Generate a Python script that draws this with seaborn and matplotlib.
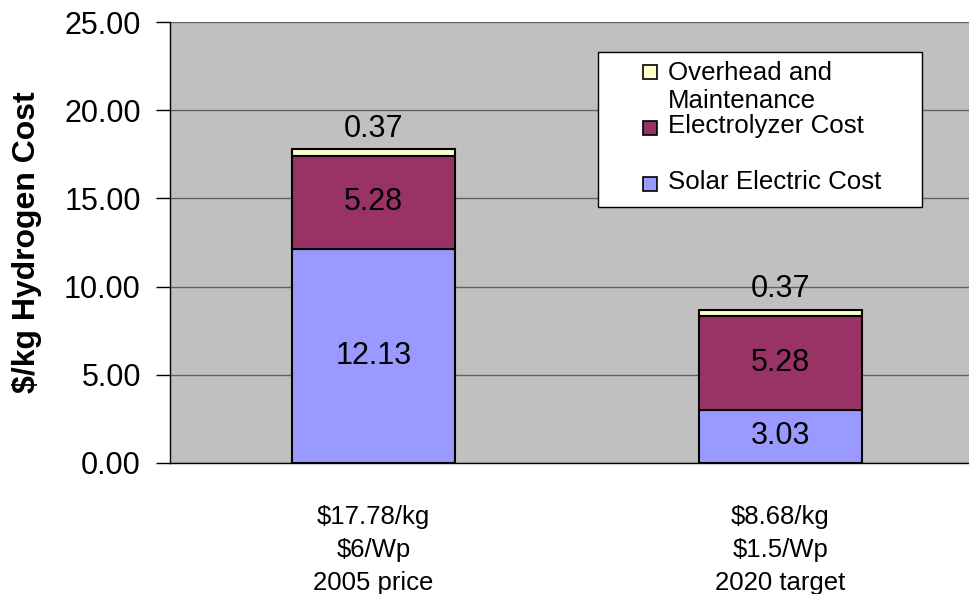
import numpy as np
import seaborn as sns
import matplotlib
matplotlib.use("Agg")
from matplotlib import pyplot as plt
from matplotlib.patches import Rectangle

# chart data
categories = ["$17.78/kg\n$6/Wp\n2005 price", "$8.68/kg\n$1.5/Wp\n2020 target"]
solar = np.array([12.13, 3.03])
electrolyzer = np.array([5.28, 5.28])
overhead = np.array([0.37, 0.37])
series_names = ["Solar Electric Cost", "Electrolyzer Cost", "Overhead and\nMaintenance"]
series_colors = ["#9999FF", "#993366", "#FFFFCC"]

sns.set_style("white")
plt.rcParams["font.family"] = ["Liberation Sans", "DejaVu Sans"]
plt.rcParams.update({"text.color": "black", "axes.labelcolor": "black",
                     "xtick.color": "black", "ytick.color": "black"})

fig = plt.figure(figsize=(9.7, 5.94), dpi=100)
W, H = 970, 594
ax = fig.add_axes([170 / W, (H - 463) / H, 814 / W, 441 / H])
ax.set_facecolor("#C0C0C0")

bottoms = [np.zeros(2), solar, solar + electrolyzer]
values = [solar, electrolyzer, overhead]
for vals, bot, col in zip(values, bottoms, series_colors):
    sns.barplot(x=list(range(2)), y=vals, bottom=bot, color=col, saturation=1,
                width=0.4, edgecolor="black", linewidth=1.5, ax=ax, zorder=3)

# value labels
ax.bar_label(ax.containers[0], labels=[f"{v:.2f}" for v in solar],
             label_type="center", fontsize=22)
ax.bar_label(ax.containers[1], labels=[f"{v:.2f}" for v in electrolyzer],
             label_type="center", fontsize=22)
ax.bar_label(ax.containers[2], labels=[f"{v:.2f}" for v in overhead],
             padding=4, fontsize=22)

ax.set_ylim(0, 25)
ax.set_xlim(-0.5, 1.5)
ax.set_yticks(np.arange(0, 26, 5))
ax.set_yticklabels([f"{v:.2f}" for v in np.arange(0, 26, 5)], fontsize=22)
ax.yaxis.grid(True, color="#606060", linewidth=1)
ax.set_axisbelow(True)

ax.set_xticks([0, 1])
ax.set_xticklabels(categories, fontsize=18.5, linespacing=1.47)
ax.set_xticks([0.5], minor=True)
ax.tick_params(axis="x", which="major", length=0, pad=30)
ax.tick_params(axis="x", which="minor", length=10, width=1, color="black", direction="out")
ax.tick_params(axis="y", length=10, width=1, color="black", direction="out", pad=11, left=True)
ax.set_xlabel("")

for s in ["top", "right"]:
    ax.spines[s].set_visible(False)
for s in ["left", "bottom"]:
    ax.spines[s].set_color("black")
    ax.spines[s].set_linewidth(1)

ax.set_ylabel("$/kg Hydrogen Cost", fontsize=23, fontweight="bold")
ax.yaxis.label.set_va("center")
ax.yaxis.set_label_coords((27 - 170) / 814, 0.5)

# legend (Excel style: box, square keys, uneven spacing)
ax.add_patch(Rectangle((598 / W, 1 - 207 / H), 324 / W, 155 / H,
                       transform=fig.transFigure, facecolor="white",
                       edgecolor="black", linewidth=1, zorder=5, clip_on=False))
key_y = [184, 128, 72]            # key centres (px from top), solar -> overhead
text_y = [189, 133, 108]          # baseline of last text line
for name, col, ky, ty in zip(series_names, series_colors, key_y, text_y):
    ax.add_patch(Rectangle((643 / W, 1 - (ky + 7) / H), 14 / W, 14 / H,
                           transform=fig.transFigure, facecolor=col,
                           edgecolor="black", linewidth=1.2, zorder=6, clip_on=False))
    ax.text(668 / W, 1 - ty / H, name, transform=fig.transFigure, fontsize=18.6,
            ha="left", va="baseline", linespacing=1.23, zorder=6)

fig.savefig("out.png", dpi=100)
